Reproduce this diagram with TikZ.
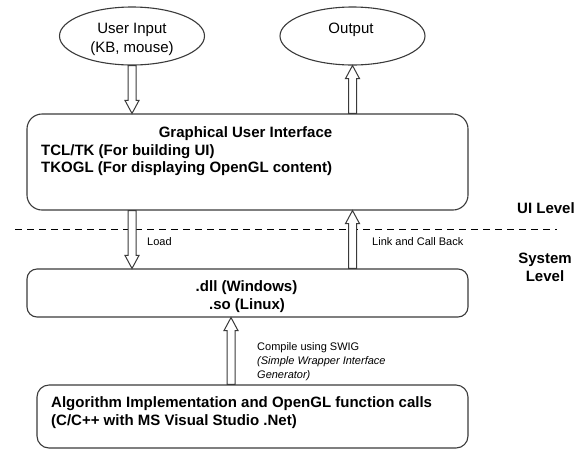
\documentclass[tikz,border=0pt]{standalone}
\usepackage{fontspec}
\setmainfont{Liberation Sans}
\usetikzlibrary{calc,shapes.geometric}

\definecolor{linegray}{RGB}{58,58,58}

\tikzset{
  ln/.style={draw=linegray, line width=1.1pt},
  bubble/.style={ellipse, ln, minimum width=145pt, minimum height=58pt, inner sep=0pt},
  panel/.style={rectangle, ln, rounded corners=#1, inner sep=0pt},
  bigtxt/.style={inner sep=0pt, font=\fontsize{15}{18}\selectfont},
  boxtxt/.style={inner sep=0pt, font=\fontsize{15}{18}\selectfont\bfseries},
  smalltxt/.style={inner sep=0pt, font=\fontsize{11}{13.5}\selectfont},
  % hollow block arrow drawn from the start point to the target point
  blockarrow/.style={ln, fill=white, line width=1pt, to path={
    ($(\tikztostart)!4pt!90:(\tikztotarget)$)
    -- ($(\tikztotarget)!13pt!(\tikztostart)!4pt!90:(\tikztotarget)$)
    -- ($(\tikztotarget)!13pt!(\tikztostart)!7pt!90:(\tikztotarget)$)
    -- (\tikztotarget)
    -- ($(\tikztotarget)!13pt!(\tikztostart)!7pt!-90:(\tikztotarget)$)
    -- ($(\tikztotarget)!13pt!(\tikztostart)!4pt!-90:(\tikztotarget)$)
    -- ($(\tikztostart)!4pt!-90:(\tikztotarget)$)
    -- cycle}},
}

\begin{document}
\begin{tikzpicture}[x=1pt,y=-1pt]
\useasboundingbox (0,0) rectangle (583,451);

% input and output ellipses
\node[bubble] (ui) at (132,36) {};
\node[bigtxt, anchor=base] (uiA) at (132,33) {User Input};
\node[bigtxt, anchor=base] (uiB) at (132,52) {(KB, mouse)};

\node[bubble] (out) at (352.5,36) {};
\node[bigtxt, anchor=base] (outA) at (351,33) {Output};

% GUI layer
\node[panel=15pt, minimum width=441pt, minimum height=96pt] (gui) at (247.5,162) {};
\node[boxtxt, anchor=base] (guiA) at (245.5,137.5) {Graphical User Interface};
\node[boxtxt, anchor=base west] (guiB) at (41,155) {TCL/TK (For building UI)};
\node[boxtxt, anchor=base west] (guiC) at (41,172.5) {TKOGL (For displaying OpenGL content)};

% level separator
\coordinate (sepL) at (15,229);
\coordinate (sepR) at (557,229);
\draw[black, line width=0.9pt, dash pattern=on 7pt off 5pt] (sepL) -- (sepR);
\node[boxtxt, anchor=base] (uilvl) at (546,213) {UI Level};
\node[boxtxt, anchor=base] (syslvl1) at (545,263.5) {System};
\node[boxtxt, anchor=base] (syslvl2) at (545,281) {Level};

% shared library layer
\node[panel=10pt, minimum width=441pt, minimum height=48pt] (dll) at (247.5,293) {};
\node[boxtxt, anchor=base] (dllA) at (246.5,291) {.dll (Windows)};
\node[boxtxt, anchor=base] (dllB) at (247,309) {.so (Linux)};

% algorithm layer
\node[panel=12pt, minimum width=431pt, minimum height=63pt] (alg) at (252.5,416.5) {};
\node[boxtxt, anchor=base west] (algA) at (51,407) {Algorithm Implementation and OpenGL function calls};
\node[boxtxt, anchor=base west] (algB) at (51,425.5) {(C/C++ with MS Visual Studio .Net)};

% connectors
\draw[blockarrow] (ui.south) to (ui.south |- gui.north);
\draw[blockarrow] (out.south |- gui.north) to (out.south);
\draw[blockarrow] (ui.south |- gui.south) to (ui.south |- dll.north);
\draw[blockarrow] (out.south |- dll.north) to (out.south |- gui.south);
\coordinate (swigfoot) at ($(alg.north)+(-21.5,0)$);
\draw[blockarrow] (swigfoot) to (swigfoot |- dll.south);

% connector labels
\node[smalltxt, anchor=base west] (loadlbl) at (147,245) {Load};
\node[smalltxt, anchor=base west] (linklbl) at (372,245) {Link and Call Back};
\node[smalltxt, anchor=base west] (swigA) at (257,350.7) {Compile using SWIG};
\node[smalltxt, anchor=base west] (swigB) at (257,364) {\itshape(Simple Wrapper Interface};
\node[smalltxt, anchor=base west] (swigC) at (257,378) {\itshape Generator)};
\end{tikzpicture}
\end{document}
